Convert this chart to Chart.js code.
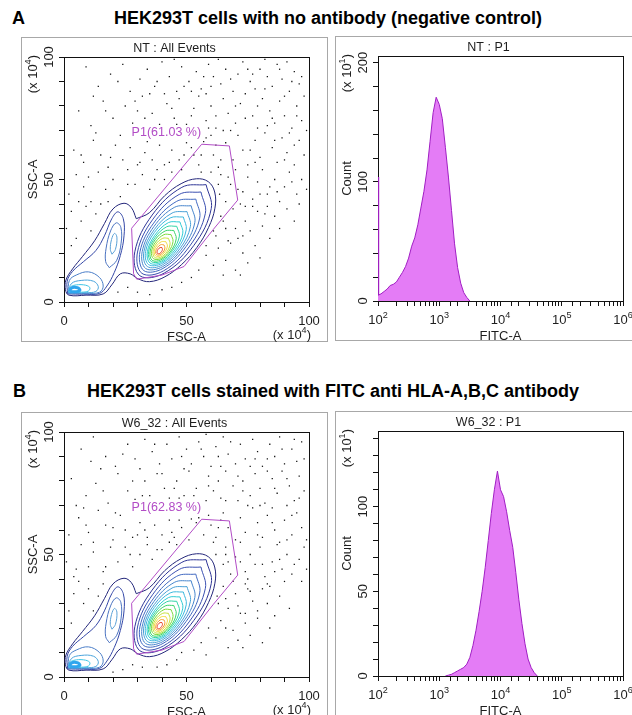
<!DOCTYPE html>
<html>
<head>
<meta charset="utf-8">
<script src="https://cdn.jsdelivr.net/npm/chart.js@4.4.1/dist/chart.umd.min.js"></script>
<style>
html, body { margin: 0; padding: 0; background: #fff; overflow: hidden; width: 632px; height: 715px; }
canvas { position: absolute; }
.head { position: absolute; font-family: "Liberation Sans", Arial, sans-serif; font-weight: bold; font-size: 18px; line-height: 18px; color: #000; white-space: nowrap; }
</style>
</head>
<body>
<div class="head" style="left:12px; top:9px;">A</div>
<div class="head" style="left:0; width:656px; top:9px; text-align:center;">HEK293T cells with no antibody (negative control)</div>
<div class="head" style="left:13px; top:382px;">B</div>
<div class="head" style="left:0; width:666px; top:382px; text-align:center;">HEK293T cells stained with FITC anti HLA-A,B,C antibody</div>

<canvas id="scatA" width="307" height="305" style="left:21px; top:37px;"></canvas>
<canvas id="histA" width="307" height="305" style="left:335px; top:36px;"></canvas>
<canvas id="scatB" width="307" height="305" style="left:21px; top:412px;"></canvas>
<canvas id="histB" width="307" height="305" style="left:335px; top:411px;"></canvas>

<script>
// ---- axis ticks ----
const fscTicks = [0, 50, 100];
const sscTicks = [0, 50, 100];
const fitcDecades = [2, 3, 4, 5, 6];
const countTicksA = [0, 100, 200];
const countTicksB = [0, 50, 100];
const countMaxA = 205.6;
const countMaxB = 144.7;

// ---- FITC histograms (x = FITC-A, y = count x10) ----
const fitcBinsA = [100, 102, 102, 103, 112, 126, 141, 158, 178, 200, 224, 251, 282, 316, 355, 398, 447, 501, 562, 631, 708, 794, 891, 1000, 1122, 1259, 1413, 1585, 1778, 1995, 2239, 2512, 2818, 3162];
const countsA = [5, 5, 104, 5, 6, 8, 10, 13, 14, 16, 20, 24, 29, 36, 46, 53, 64, 78, 92, 110, 134, 158, 171, 165, 153, 129, 104, 76, 48, 28, 15, 7, 3, 0];

const fitcBinsB = [1259, 1413, 1585, 1778, 1995, 2239, 2512, 2818, 3162, 3548, 3981, 4467, 5012, 5623, 6310, 7079, 7943, 8913, 10000, 11220, 12589, 14125, 15849, 17783, 19953, 22387, 25119, 28184, 31623, 35481, 39811];
const countsB = [0, 0.5, 1, 2, 3, 4, 5, 7, 11, 18, 27, 38, 50, 64, 80, 96, 110, 121, 110, 106, 97, 86, 76, 61, 45, 31, 19, 10, 5, 2, 0];

// ---- P1 gate (FSC-A, SSC-A in x10^4) ----
const gateP1 = [[27.6,30.1],[56.2,64.4],[67.5,63.7],[70.9,41.6],[61.0,29.7],[49.0,14.5],[40.0,11.0],[29.7,9.3],[28.4,11.5],[27.6,30.1]];
const gateLabelPos = [27.6, 69];
const gateLabelA = 'P1(61.03 %)';
const gateLabelB = 'P1(62.83 %)';

// ---- density contours ----
const outerContour = [[29.5,34.0],[34.8,36.4],[41.1,43.4],[47.8,48.3],[54.1,50.3],[58.9,49.1],[61.5,44.9],[61.6,38.3],[59.0,30.4],[54.2,22.2],[47.9,15.2],[41.2,10.3],[34.9,8.3],[30.1,9.5],[27.0,11.5],[23.0,11.5],[19.5,7.0],[16.0,3.3],[9.0,2.8],[2.0,2.8],[0.6,5.0],[0.8,9.0],[3.5,13.5],[7.5,18.5],[12.5,25.0],[16.5,32.0],[20.0,38.0],[24.5,40.3],[27.5,38.5],[29.5,34.0]];

const leftContours = [
  [[1.5,3.3],[8.0,3.2],[14.5,3.5],[17.5,6.5],[20.5,12.0],[23.0,19.0],[24.5,27.0],[24.2,34.0],[22.0,36.8],[19.5,34.0],[16.5,27.0],[13.0,21.0],[8.0,16.5],[3.5,12.5],[1.3,8.5]],
  [[18.5,14.0],[21.5,17.0],[23.3,24.0],[23.2,30.5],[21.3,32.3],[19.0,29.0],[17.2,22.0],[17.0,16.5]],
  [[19.6,19.5],[21.0,21.5],[21.6,26.5],[20.6,28.0],[19.4,25.5],[18.9,21.5]],
  [[1.7,3.6],[9.0,3.5],[14.5,4.0],[16.0,6.5],[14.5,10.0],[10.0,12.3],[5.0,11.0],[2.2,8.8]],
  [[1.9,3.8],[9.0,3.8],[13.0,4.3],[14.0,6.3],[12.0,8.5],[7.0,8.8],[3.0,7.5]],
  [[2.1,4.0],[7.0,4.0],[10.0,4.5],[10.5,6.0],[8.0,7.0],[4.0,6.8],[2.3,5.8]],
  [[2.3,4.2],[5.0,4.2],[6.5,4.8],[5.5,5.8],[3.0,5.7]]
];
const leftColors = ['#3346a6', '#4a72c0', '#5aa0d6', '#4a7ec8', '#4aa4dc', '#3cc4e4', '#2fa6ee'];

const mainRings = [
  [[58.0,47.9],[48.1,46.8],[36.0,35.5],[28.9,20.5],[31.0,10.7],[40.9,11.8],[53.0,23.1],[60.1,38.1]],
  [[55.9,44.9],[47.0,43.9],[36.3,33.8],[30.0,20.4],[31.8,11.7],[40.6,12.7],[51.3,22.8],[57.7,36.2]],
  [[53.8,42.0],[46.0,41.1],[36.6,32.2],[31.0,20.5],[32.6,12.8],[40.4,13.7],[49.8,22.6],[55.4,34.3]],
  [[51.9,39.3],[45.0,38.6],[36.7,30.8],[31.9,20.5],[33.3,13.7],[40.2,14.4],[48.5,22.2],[53.4,32.5]],
  [[50.2,36.9],[44.1,36.3],[36.8,29.5],[32.6,20.5],[34.0,14.5],[40.1,15.1],[47.4,21.9],[51.6,30.9]],
  [[48.7,34.7],[43.3,34.3],[36.9,28.4],[33.3,20.6],[34.5,15.3],[39.9,15.7],[46.3,21.6],[49.9,29.5]],
  [[47.3,32.7],[42.6,32.4],[37.1,27.3],[34.0,20.5],[35.1,15.9],[39.8,16.2],[45.3,21.3],[48.5,28.1]],
  [[46.0,30.9],[41.9,30.7],[37.2,26.4],[34.5,20.5],[35.6,16.5],[39.7,16.7],[44.4,21.1],[47.1,26.9]],
  [[44.8,29.2],[41.3,29.0],[37.2,25.4],[35.1,20.4],[36.0,17.0],[39.5,17.2],[43.6,20.8],[45.8,25.8]],
  [[43.7,27.5],[40.8,27.5],[37.4,24.5],[35.7,20.5],[36.5,17.7],[39.5,17.7],[42.8,20.7],[44.5,24.7]],
  [[42.6,26.0],[40.3,26.0],[37.6,23.7],[36.3,20.5],[37.0,18.2],[39.3,18.2],[42.0,20.5],[43.3,23.7]],
  [[41.6,24.6],[39.8,24.6],[37.8,22.9],[36.8,20.5],[37.4,18.8],[39.2,18.8],[41.2,20.5],[42.2,22.9]],
  [[40.8,23.3],[39.5,23.4],[38.1,22.2],[37.4,20.5],[37.8,19.3],[39.1,19.3],[40.5,20.4],[41.2,22.1]],
  [[40.0,22.2],[39.2,22.2],[38.4,21.5],[38.0,20.5],[38.2,19.8],[39.0,19.8],[39.8,20.5],[40.2,21.5]]
];
const ringColors = ['#2e3596', '#3a4fb0', '#4068c0', '#4684cc', '#49a0d6', '#3cb8de', '#30ccd4', '#30d4a4', '#38d468', '#78da3a', '#c6e03a', '#f0d83a', '#f49c30', '#e6432a'];

// ---- outlier events outside the contours ----
const dotsA = [
  [9,96],[14,88],[19,93],[24,97],[27,86],[31,91],[34,95],[37,88],[40,98],[43,92],[46,86],[48,96],[51,90],[54,94],[56,87],[59,97],[61,92],[64,89],[66,95],[69,86],[71,93],[73,98],[76,90],[78,87],[80,95],[83,92],[85,88],[87,97],[89,91],[92,86],[94,94],[96,89],[22,90],[45,99],[63,99],[82,99],[35,85],[58,85],[75,95],[91,98],
  [6,78],[11,72],[16,82],[20,75],[25,80],[28,73],[32,84],[36,77],[39,72.5],[42,81],[45,75],[47,83],[50,72.5],[53,79],[55,84],[58,74],[60,80],[62,71],[65,83],[67,77],[70,73],[72,81],[74,85],[77,76],[79,71],[81,83],[84,78],[86,73],[88,82],[90,76],[93,71],[95,80],[97,74],[46,72.5],[59,71],[68,70],[83,72],[30,78],[52,86],[98,84],
  [4,62],[8,57],[12,66],[15,60],[18,55],[21,64],[24,58],[27,63],[30,56],[33,61],[36,58],[39,64],[41,56],[44,62],[47,58],[50,65],[53,60],[55,56],[58,67],[61,60],[63,55],[66,65],[69,58],[71,68],[73,62],[75,56],[78,66],[80,59],[82,69],[85,63],[87,57],[89,67],[91,61],[94,56],[96,66],[98,60],[60,68],[76,62],[92,69],[13,69],
  [2,44],[5,52],[8,47],[11,41],[14,53],[17,46],[20,50],[23,43],[26,54],[29,48],[32,52],[35,46],[38,54],[41,50],[44,53],[63.5,44],[64,52],[66,41],[68,48],[70,54],[73,45],[75,51],[77,42],[79,49],[81,54],[83,44],[86,50],[88,41],[90,47],[92,53],[95,44],[97,50],[63,48],[72,40],[84,47],[60,53],[48,54],[56,53],
  [1,30],[3,37],[5,26],[7,33],[9,39],[11,29],[13,36],[15,40],[62,27],[64,35],[66,30],[69,38],[71,26],[74,33],[76,29],[79,37],[81,31],[84,26],[86,35],[88,30],[91,38],[61,29],[67,25],[77,39],[83,39],[94,33],
  [55,13],[58,19],[61,15],[63,22],[66,17],[68,24],[70,13],[73,20],[75,16],[78,23],[80,18],[52,10],[58,23],[65,11],[72,11],[48,8],[44,6],[40,5],[22,4],[26,6],[30,4],[35,3],
  [12,84],[17,78],[23,68],[29,82],[33,75],[38,90],[41,85],[44,79],[49,88],[52,76],[57,92],[60,88],[62,76],[65,70],[68,91],[70,80],[74,75],[77,93],[79,80],[82,87],[85,75],[88,95],[90,84],[93,90],[95,76],[97,92],[99,70],[7,60],[10,51],[19,59],
  [26,48],[34,65.5],[37,50],[43,57],[52,63],[56,60],[64,58],[67,51],[71,46],[74,39],[78,57],[80,44],[82,36],[87,45],[90,58],[93,49],[96,40],[65,33],[70,30],[73,27],[3,23],[6,41],[18,41],[31,57],[49,60],[57,65.5],[62,64],[86,66],[94,64],[99,46]
];
const dotsB = [
  [7,93],[12,98],[17,90],[21,86],[26,95],[29,89],[33,97],[36,92],[39,87],[42,95],[44,89],[47,98],[50,93],[52,87],[55,96],[57,90],[60,86],[62,94],[65,98],[67,91],[70,87],[72,95],[74,89],[77,97],[79,92],[81,86],[84,95],[86,90],[88,98],[90,87],[93,93],[95,88],[97,96],[31,85],[49,85],[64,86],[83,89],[24,91],[58,99],[76,86],
  [3,81],[9,74],[13,79],[18,71],[22,83],[26,76],[29,72.5],[33,80],[35,74],[38,83],[41,77],[43,73],[46,80],[49,74],[51,84],[54,77],[58,72],[59,82],[61,76],[64,73],[66,84],[69,78],[71,72],[73,80],[76,74],[78,83],[80,77],[82,71],[85,81],[87,75],[89,84],[92,78],[94,72],[96,82],[98,76],[15,85],[47,73],[63,80],[75,70],[91,70],
  [2,58],[6,65],[10,59],[14,68],[17,62],[20,56],[23,66],[25,60],[28,57],[31,63],[34,57],[37,62],[40,58],[43,64],[45,57],[48,61],[51,56],[54,63],[57,58],[60,62],[62,57],[65,67],[67,61],[70,56],[72,65],[74,59],[77,69],[79,63],[81,57],[83,66],[86,60],[88,55],[90,64],[93,58],[95,67],[97,61],[8,69],[59,66],[85,69],[99,56],
  [1,47],[4,41],[7,54],[10,45],[12,51],[16,43],[19,53],[22,47],[25,53],[28,45],[31,50],[34,54],[36,48],[40,52],[43,55],[46,54],[65,46],[66,53],[68,42],[70,49],[72,55],[74,43],[76,50],[78,46],[80,53],[82,41],[85,47],[87,54],[89,44],[91,50],[93,42],[96,48],[98,53],[67,47],[75,40],[86,43],[62,50],[61,55],
  [2,27],[4,34],[6,39],[8,30],[10,36],[12,27],[14,33],[16,38],[63,30],[65,37],[67,28],[70,34],[72,26],[74,38],[77,31],[79,27],[81,36],[83,30],[86,25],[88,33],[90,39],[62.5,33],[69,39],[84,37],[92,28],[76,35],
  [56,14],[59,20],[62,16],[64,23],[67,12],[69,19],[71,15],[74,22],[76,17],[79,24],[81,14],[53,11],[58,9],[66,20],[73,12],[46,7],[42,5],[38,4],[24,3],[28,5],[32,4],[20,2],[48,10],[84,20],
  [11,88],[16,76],[21,67],[28,80],[32,74],[37,95],[40,83],[45,77],[48,90],[53,74],[56,93],[59,78],[63,90],[66,72],[68,96],[71,82],[73,76],[78,89],[80,70],[83,84],[86,77],[89,93],[91,81],[94,97],[96,73],[98,89],[5,70],[9,62],[12,55],[20,61],
  [27,50],[33,60],[38,52],[44,59],[52,64.5],[55,65],[63,61],[66,50],[72,47],[75,36],[79,58],[81,46],[83,38],[88,48],[91,56],[94,46],[97,39],[66,32],[71,29],[74,26],[3,22],[5,44],[17,45],[30,58],[47,64],[64,64],[85,63],[93,66],[99,44]
];

// ---------------------------------------------------------------
const FONT = '"Liberation Sans", Arial, Helvetica, sans-serif';
function font(px) { return px + 'px ' + FONT; }

function toXY(pairs) { return pairs.map(p => ({ x: p[0], y: p[1] })); }
function closed(pairs) { return toXY(pairs.concat([pairs[0]])); }

function richWidth(ctx, parts, size) {
  let w = 0;
  parts.forEach(p => { ctx.font = font(p[1] ? size * 0.7 : size); w += ctx.measureText(p[0]).width; });
  return w;
}
function drawRich(ctx, parts, x, y, size, align) {
  const w = richWidth(ctx, parts, size);
  let cx = align === 'center' ? x - w / 2 : align === 'right' ? x - w : x;
  ctx.textAlign = 'left';
  ctx.textBaseline = 'alphabetic';
  parts.forEach(p => {
    ctx.font = font(p[1] ? size * 0.7 : size);
    ctx.fillText(p[0], cx, p[1] ? y - size * 0.45 : y);
    cx += ctx.measureText(p[0]).width;
  });
}

// frame, plot box and all the texts around the plot
function panelPlugin(cfg) {
  return {
    id: 'panel',
    beforeDatasetsDraw(chart) {
      const ctx = chart.ctx, a = chart.chartArea;
      ctx.save();
      ctx.lineWidth = 1;
      ctx.strokeStyle = '#a8a8a8';
      ctx.strokeRect(0.5, 0.5, chart.width - 1, chart.height - 1);
      ctx.strokeStyle = '#111';
      ctx.strokeRect(Math.round(a.left) + 0.5, Math.round(a.top) + 0.5, Math.round(a.right - a.left), Math.round(a.bottom - a.top));
      ctx.restore();
    },
    afterDraw(chart) {
      const ctx = chart.ctx, a = chart.chartArea;
      const xs = chart.scales.x, ys = chart.scales.y;
      ctx.save();
      ctx.fillStyle = '#1e1e1e';
      ctx.font = font(12.5);
      ctx.textAlign = 'center';
      ctx.textBaseline = 'alphabetic';
      ctx.fillText(cfg.title, chart.width / 2, a.top - 5.5);

      cfg.xTicks.forEach(t => drawRich(ctx, t.parts, xs.getPixelForValue(t.value), a.bottom + 22.5, 13, 'center'));
      ctx.font = font(13);
      ctx.textAlign = 'center';
      ctx.fillText(cfg.xTitle, (a.left + a.right) / 2, a.bottom + 38.5);
      if (cfg.xMult) drawRich(ctx, cfg.xMult, a.right + 2, a.bottom + 37, 13, 'right');

      cfg.yTicks.forEach(v => {
        ctx.save();
        ctx.translate(a.left - 11, ys.getPixelForValue(v));
        ctx.rotate(-Math.PI / 2);
        ctx.font = font(13);
        ctx.textAlign = 'center';
        ctx.textBaseline = 'alphabetic';
        ctx.fillText(String(v), 0, 0);
        ctx.restore();
      });
      ctx.save();
      ctx.translate(a.left - 27.5, (a.top + a.bottom) / 2);
      ctx.rotate(-Math.PI / 2);
      ctx.font = font(13);
      ctx.textAlign = 'center';
      ctx.fillText(cfg.yTitle, 0, 0);
      ctx.restore();
      ctx.save();
      ctx.translate(a.left - 27, a.top - 2);
      ctx.rotate(-Math.PI / 2);
      drawRich(ctx, cfg.yMult, 0, 0, 13, 'right');
      ctx.restore();

      if (cfg.gateLabel) {
        ctx.fillStyle = '#b24cc6';
        ctx.font = font(12.5);
        ctx.textAlign = 'left';
        ctx.textBaseline = 'middle';
        ctx.fillText(cfg.gateLabel, xs.getPixelForValue(gateLabelPos[0]), ys.getPixelForValue(gateLabelPos[1]));
      }
      ctx.restore();
    }
  };
}

function axis(extra) {
  return Object.assign({
    ticks: { display: false },
    grid: { drawOnChartArea: false, drawTicks: true, tickLength: 5, color: '#111' },
    border: { display: false }
  }, extra);
}

function baseOptions(scales) {
  return {
    responsive: false,
    animation: false,
    devicePixelRatio: 1,
    events: [],
    layout: { padding: { top: 20, right: 19, left: 0, bottom: 0 } },
    plugins: { legend: { display: false }, tooltip: { enabled: false }, title: { display: false } },
    scales: scales
  };
}

function lineSet(pairs, color, width) {
  return { data: closed(pairs), showLine: true, borderColor: color, borderWidth: width || 1,
           pointRadius: 0, tension: 0.38, fill: false };
}

function makeScatter(id, dots, title, gateLabel) {
  // bottom to top
  const sets = [];
  sets.push({ data: toXY(dots), showLine: false, pointStyle: 'rect', pointRadius: 0.9,
              pointBorderWidth: 0, backgroundColor: '#141414' });
  sets.push(lineSet(outerContour, '#23267a'));
  leftContours.forEach((c, i) => sets.push(lineSet(c, leftColors[i], i === leftContours.length - 1 ? 3 : 1)));
  mainRings.forEach((r, i) => sets.push(lineSet(r, ringColors[i])));
  sets.push({ data: toXY(gateP1), showLine: true, borderColor: '#b24cc6', borderWidth: 1, pointRadius: 0, tension: 0 });
  sets.reverse();

  new Chart(document.getElementById(id), {
    type: 'scatter',
    data: { datasets: sets },
    options: baseOptions({
      x: axis({ type: 'linear', min: 0, max: 100, ticks: { display: false, stepSize: 10 }, afterFit: s => { s.height = 40; } }),
      y: axis({ type: 'linear', min: 0, max: 100, ticks: { display: false, stepSize: 10 }, afterFit: s => { s.width = 43; } })
    }),
    plugins: [panelPlugin({
      title: title,
      xTicks: fscTicks.map(v => ({ value: v, parts: [[String(v), false]] })),
      yTicks: sscTicks,
      xTitle: 'FSC-A', yTitle: 'SSC-A',
      xMult: [['(x 10', false], ['4', true], [')', false]],
      yMult: [['(x 10', false], ['4', true], [')', false]],
      gateLabel: gateLabel
    })]
  });
}

function makeHist(id, bins, counts, yMax, yStep, yTicks, title) {
  new Chart(document.getElementById(id), {
    type: 'line',
    data: { datasets: [{
      data: bins.map((b, i) => ({ x: b, y: counts[i] })),
      fill: 'origin', backgroundColor: 'rgb(228,124,246)', borderColor: 'rgb(160,30,195)',
      borderWidth: 1, pointRadius: 0, tension: 0
    }] },
    options: baseOptions({
      x: axis({ type: 'logarithmic', min: 100, max: 1000000, afterFit: s => { s.height = 40; } }),
      y: axis({ type: 'linear', min: 0, max: yMax, ticks: { display: false, stepSize: yStep, includeBounds: false }, afterFit: s => { s.width = 43; } })
    }),
    plugins: [panelPlugin({
      title: title,
      xTicks: fitcDecades.map(e => ({ value: Math.pow(10, e), parts: [['10', false], [String(e), true]] })),
      yTicks: yTicks,
      xTitle: 'FITC-A', yTitle: 'Count',
      xMult: null,
      yMult: [['(x 10', false], ['1', true], [')', false]]
    })]
  });
}

makeScatter('scatA', dotsA, 'NT : All Events', gateLabelA);
makeHist('histA', fitcBinsA, countsA, countMaxA, 20, countTicksA, 'NT : P1');
makeScatter('scatB', dotsB, 'W6_32 : All Events', gateLabelB);
makeHist('histB', fitcBinsB, countsB, countMaxB, 10, countTicksB, 'W6_32 : P1');
</script>
</body>
</html>
